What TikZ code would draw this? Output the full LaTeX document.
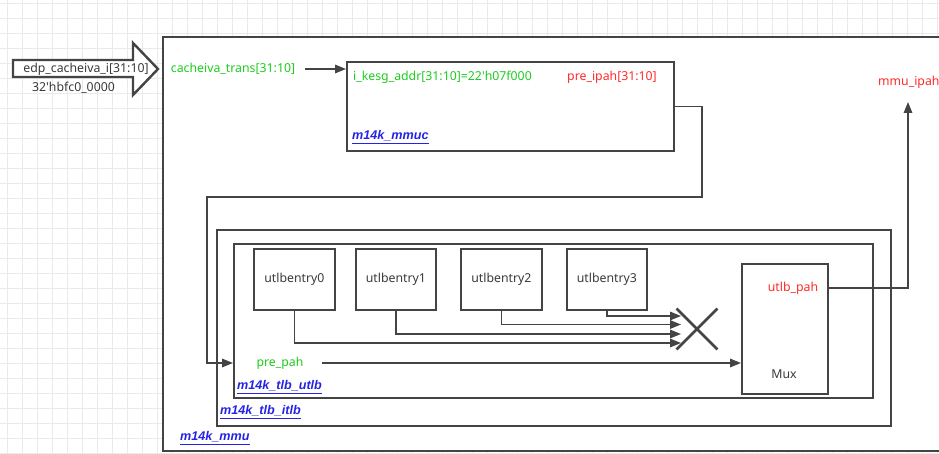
\documentclass[tikz,border=0pt]{standalone}
\usepackage{fontspec}
\setmainfont{Noto Sans}
\newfontfamily\lblfont{Liberation Sans}
\usetikzlibrary{arrows.meta,shapes.misc,calc}
\definecolor{lc}{HTML}{444444}
\definecolor{tc}{HTML}{3A3A3A}
\definecolor{gT}{HTML}{1ECC1E}
\definecolor{rT}{HTML}{FF2A2A}
\definecolor{bT}{HTML}{2424E6}
\definecolor{gridc}{HTML}{EAEAEA}
\begin{document}
\begin{tikzpicture}[x=1pt,y=-1pt,
  font=\fontsize{12.3}{14}\selectfont,
  box/.style={draw=lc,line width=1.8pt,fill=white,inner sep=0pt,anchor=north west,text=tc},
  conn/.style={draw=lc,line width=1.6pt},
  arr/.style={conn,-{Triangle[length=11pt,width=8.5pt]}},
  txt/.style={text=tc,inner sep=0pt},
  gtxt/.style={text=gT,inner sep=0pt},
  rtxt/.style={text=rT,inner sep=0pt},
  lbl/.style={text=bT,inner sep=0pt,anchor=west,font=\lblfont\fontsize{12.6}{14}\selectfont\bfseries\itshape},
  gline/.style={draw=gridc,line width=0.8pt},
]
\useasboundingbox (0,0) rectangle (939,454);
\clip (0,0) rectangle (939,454);
\fill[white] (0,0) rectangle (939,454);
% background grid
\foreach \x in {7,22,...,937} \draw[gline] (\x,0) -- (\x,454);
\foreach \y in {3,18,...,453} \draw[gline] (0,\y) -- (939,\y);

% boxes
\node[box,minimum width=800,minimum height=414] (mmu) at (162,36) {};
\node[box,minimum width=327,minimum height=89] (mmuc) at (346,61) {};
\node[box,minimum width=674,minimum height=196] (itlb) at (216,229) {};
\node[box,minimum width=639,minimum height=154] (utlb) at (233,243) {};
\node[box,minimum width=81,minimum height=61] (e0) at (253,248) {utlbentry0};
\node[box,minimum width=80,minimum height=61] (e1) at (355,248) {utlbentry1};
\node[box,minimum width=81,minimum height=61] (e2) at (460,248) {utlbentry2};
\node[box,minimum width=80,minimum height=61] (e3) at (566,248) {utlbentry3};
\node[box,minimum width=86,minimum height=130] (mux) at (741,263) {};
\node[draw=lc,cross out,line width=2.8pt,minimum size=38,inner sep=0pt] (mx) at (697,329) {};

% input block arrow
\draw[draw=lc,line width=2.4pt,fill=white,line join=miter]
  (13,60) -- (133,60) -- (133,43) -- (158,69) -- (133,95) -- (133,77) -- (13,77) -- cycle;
\node[txt] (edp) at (86,69) {edp\_cacheiva\_i[31:10]};
\node[txt] (hbfc) at (73.5,88) {32\textquotesingle hbfc0\_0000};

% texts
\node[gtxt] (ctrans) at (233,69) {cacheiva\_trans[31:10]};
\node[gtxt,anchor=west] (kesg) at (353,77) {i\_kesg\_addr[31:10]=22\textquotesingle h07f000};
\node[rtxt,anchor=west] (preipah) at (567,77) {pre\_ipah[31:10]};
\node[lbl] (lmmuc) at (352,137) {\underline{m14k\_mmuc}};
\node[gtxt] (prepah) at (280,363) {pre\_pah};
\node[rtxt] (upah) at (793,288) {utlb\_pah};
\node[txt] (muxt) at (784,374) {Mux};
\node[rtxt,anchor=west] (ipah) at (878,82) {mmu\_ipah};
\node[lbl] (lutlb) at (237,387) {\underline{m14k\_tlb\_utlb}};
\node[lbl] (litlb) at (220,412) {\underline{m14k\_tlb\_itlb}};
\node[lbl] (lmmu) at (180,438) {\underline{m14k\_mmu}};

% tip coordinates
\coordinate (t0) at (681,343);
\coordinate (t1) at (681,334);
\coordinate (t2) at (681,324.5);
\coordinate (t3) at (681,316);
\coordinate (ipahtip) at (908,102);

% connectors
\draw[arr] ($(ctrans.east)+(10,0)$) -- (ctrans.east -| mmuc.west);
\draw[arr] (mmuc.east) -| (702,197) -| (207,363) -- (prepah -| utlb.west);
\draw[arr] (e0.south) |- (t0);
\draw[arr] (e1.south) |- (t1);
\draw[arr] (e2.south) |- (t2);
\draw[arr] (e3.south) |- (t3);
\draw[arr] ($(prepah.east)+(18,0)$) -- (prepah -| mux.west);
\draw[arr] (upah -| mux.east) -| (ipahtip);
\end{tikzpicture}
\end{document}
